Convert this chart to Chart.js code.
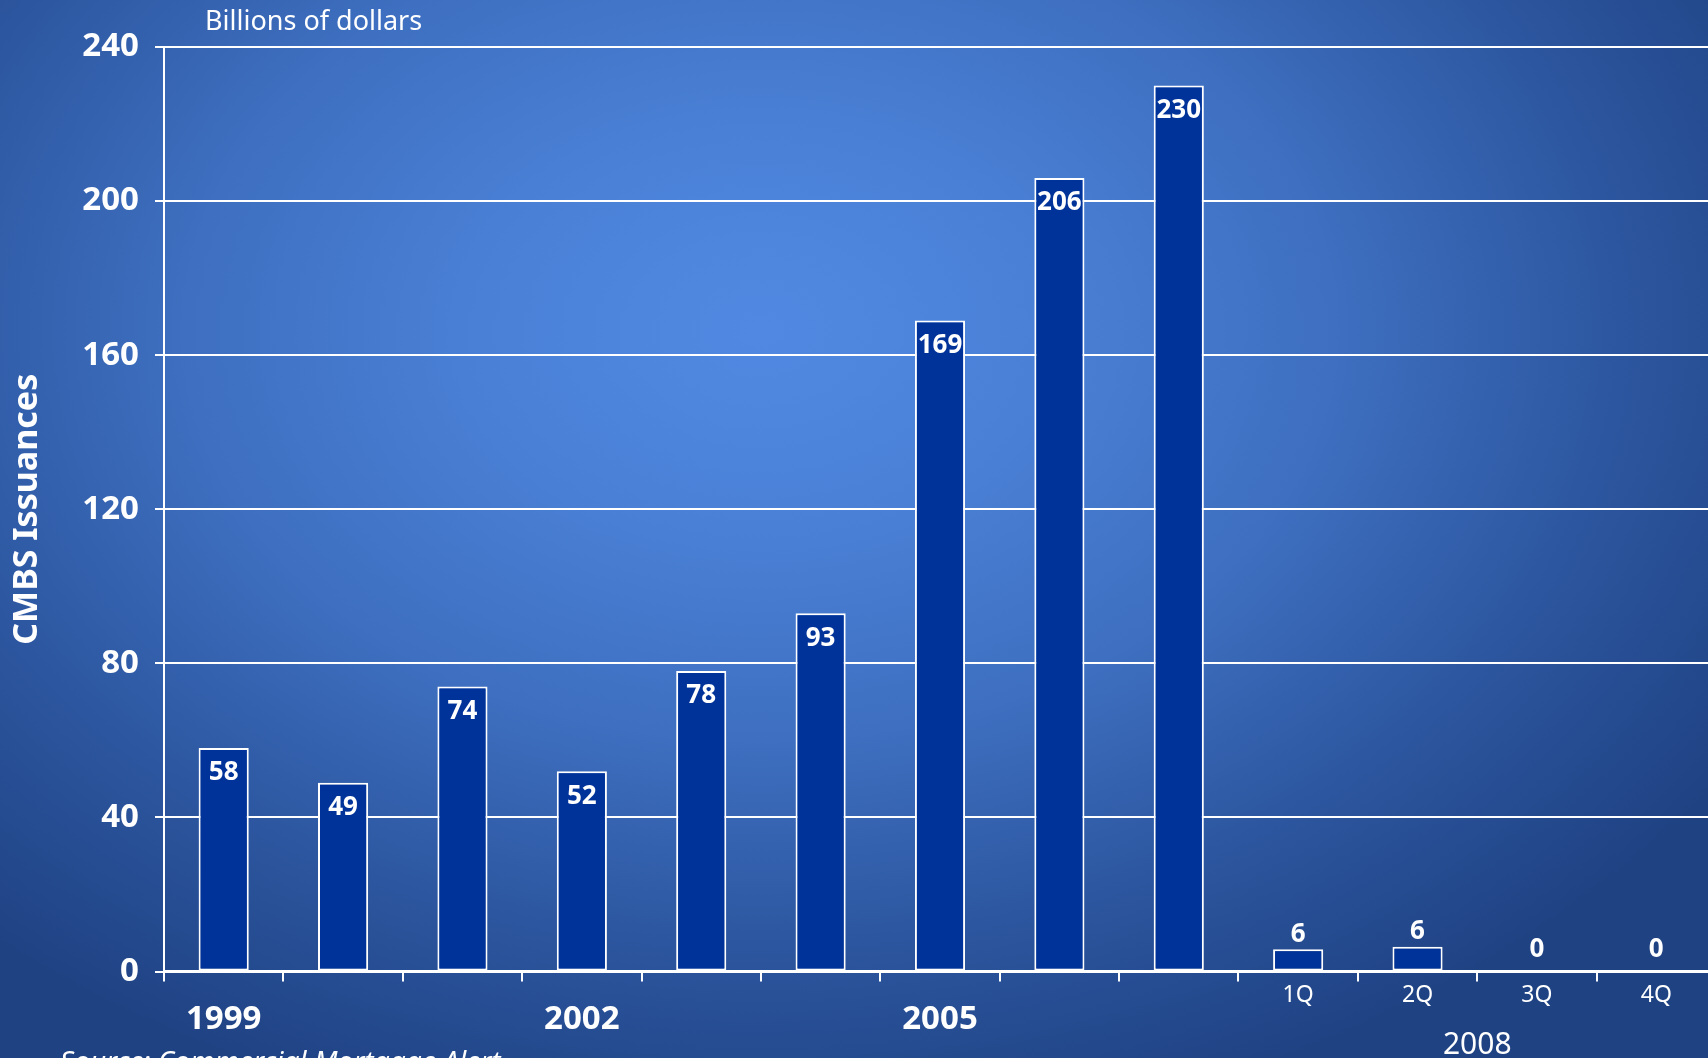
<!DOCTYPE html>
<html>
<head>
<meta charset="utf-8">
<script src="https://cdn.jsdelivr.net/npm/chart.js@4.4.1/dist/chart.umd.min.js"></script>
<style>
  html, body { margin: 0; padding: 0; overflow: hidden; }
  body {
    width: 1708px; height: 1058px;
    background: radial-gradient(ellipse 1150px 820px at 760px 330px, #5189e2 0%, #4b82d8 22%, #3e6fc0 50%, #2c569f 75%, #1f4283 100%);
  }
  #wrap { position: absolute; left: 0; top: 0; width: 1730px; height: 1058px; }
</style>
</head>
<body>
<div id="wrap"><canvas id="cmbsChart"></canvas></div>
<script>
const categories = ['1999', '2000', '2001', '2002', '2003', '2004', '2005', '2006', '2007', '1Q', '2Q', '3Q', '4Q'];
const issuances = [58, 49, 74, 52, 78, 93, 169, 206, 230, 5.8, 6.4, 0, 0];
const shownYears = ['1999', '2002', '2005'];
const yTicks = [0, 40, 80, 120, 160, 200, 240];

const FONT = '"Noto Sans", "Open Sans", sans-serif';
const yearCount = 9;

// value labels, plus the free texts around the plot
const labelPlugin = {
    id: 'cmbsLabels',
    afterDatasetsDraw(chart) {
        const ctx = chart.ctx;
        const meta = chart.getDatasetMeta(0);
        ctx.save();
        ctx.fillStyle = '#ffffff';
        ctx.font = 'bold 26px ' + FONT;
        ctx.textAlign = 'center';
        ctx.textBaseline = 'middle';
        meta.data.forEach((bar, i) => {
            const v = issuances[i];
            const txt = String(Math.round(v));
            if (v >= 20) {
                ctx.fillText(txt, bar.x, bar.y + 25);
            } else if (v > 0) {
                ctx.fillText(txt, bar.x, bar.y - 15);
            } else {
                ctx.fillText(txt, bar.x, bar.y - 22);
            }
        });
        ctx.restore();
    },
    afterDraw(chart) {
        const ctx = chart.ctx;
        const x = chart.scales.x;
        const area = chart.chartArea;
        ctx.save();
        ctx.fillStyle = '#ffffff';
        ctx.textBaseline = 'middle';

        ctx.textAlign = 'left';
        ctx.font = '27px ' + FONT;
        ctx.fillText('Billions of dollars', area.left + 41, 22);

        ctx.textAlign = 'center';
        ctx.font = '30px ' + FONT;
        const mid = (x.getPixelForValue(10) + x.getPixelForValue(11)) / 2;
        ctx.fillText('2008', mid, 1045);

        ctx.textAlign = 'left';
        ctx.font = 'italic 28px ' + FONT;
        ctx.fillText('Source: Commercial Mortgage Alert', 60, 1063);
        ctx.restore();
    }
};

new Chart(document.getElementById('cmbsChart'), {
    type: 'bar',
    data: {
        labels: categories,
        datasets: [{
            data: issuances,
            backgroundColor: '#003399',
            borderColor: '#ffffff',
            borderWidth: ctx => (issuances[ctx.dataIndex] > 0 ? 2 : 0),
            borderSkipped: false,
            barPercentage: 0.42,
            categoryPercentage: 1
        }]
    },
    options: {
        responsive: true,
        maintainAspectRatio: false,
        animation: false,
        layout: { padding: { top: 47, right: 14, left: 0, bottom: 0 } },
        plugins: { legend: { display: false }, tooltip: { enabled: false } },
        scales: {
            x: {
                grid: { display: true, drawOnChartArea: false, color: '#ffffff', lineWidth: 2, tickLength: 10, offset: true },
                border: { color: '#ffffff', width: 2.5 },
                ticks: {
                    autoSkip: false,
                    maxRotation: 0,
                    color: '#ffffff',
                    padding: 0,
                    font: ctx => (ctx.index < yearCount
                        ? { family: FONT, size: 33, weight: 'bold', lineHeight: 0.76 }
                        : { family: FONT, size: 23, weight: 'normal', lineHeight: 1.2 }),
                    callback: function (value, index) {
                        const lab = categories[index];
                        if (index < yearCount) return shownYears.includes(lab) ? ['', lab] : '';
                        return lab;
                    }
                },
                afterFit: s => { s.height = 86.5; }
            },
            y: {
                min: 0,
                max: 240,
                afterBuildTicks: s => { s.ticks = yTicks.map(v => ({ value: v })); },
                grid: { color: '#ffffff', lineWidth: 2, tickLength: 9 },
                border: { color: '#ffffff', width: 2 },
                ticks: { color: '#ffffff', padding: 16, font: { family: FONT, size: 33, weight: 'bold' } },
                title: {
                    display: true,
                    text: 'CMBS Issuances',
                    color: '#ffffff',
                    font: { family: FONT, size: 34, weight: 'bold', lineHeight: 1.2 },
                    padding: { top: 7, bottom: 0 }
                },
                afterFit: s => { s.width = 164; }
            }
        }
    },
    plugins: [labelPlugin]
});
</script>
</body>
</html>
